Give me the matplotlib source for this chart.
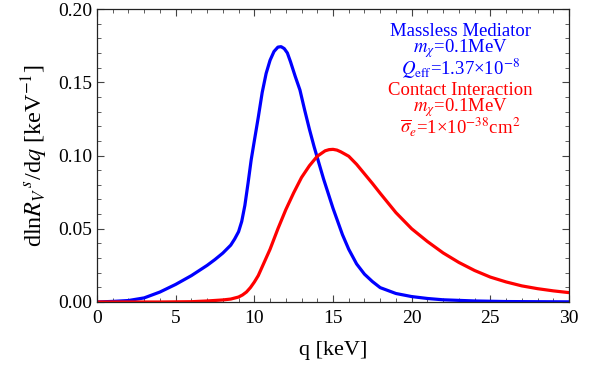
import matplotlib
matplotlib.use('Agg')
import matplotlib.pyplot as plt
from matplotlib.ticker import MultipleLocator

plt.rcParams['font.family'] = ['Liberation Serif', 'DejaVu Serif']
plt.rcParams['mathtext.fontset'] = 'stix'

# Massless mediator (blue)
q_massless = [0, 1, 2, 3, 4, 5, 6, 7, 7.5, 8, 8.5, 8.75, 9.0, 9.2, 9.4, 9.6,
              9.8, 10.0, 10.25, 10.5, 10.75, 11.0, 11.25, 11.5, 11.7, 11.9,
              12.1, 12.3, 12.6, 12.9, 13.2, 13.5, 13.8, 14.1, 14.4, 14.7, 15.0,
              15.3, 15.6, 16.0, 16.5, 17.0, 17.5, 18.0, 19.0, 20.0, 21, 22, 24,
              26, 28, 30]
rate_massless = [0, 0.0004, 0.001, 0.0028, 0.0068, 0.012, 0.018, 0.025, 0.029,
                 0.0334, 0.0388, 0.043, 0.048, 0.055, 0.066, 0.081, 0.097,
                 0.110, 0.126, 0.143, 0.156, 0.165, 0.171, 0.1740, 0.1743,
                 0.1730, 0.170, 0.164, 0.154, 0.1447, 0.131, 0.118, 0.106,
                 0.095, 0.084, 0.074, 0.064, 0.055, 0.046, 0.036, 0.026, 0.019,
                 0.014, 0.0098, 0.0058, 0.0037, 0.0024, 0.0015, 0.0007, 0.0003,
                 0.0002, 0.0001]

# Contact interaction (red)
q_contact = [0, 2, 4, 6, 7, 8, 8.5, 9, 9.25, 9.5, 9.75, 10, 10.25, 10.5, 11,
             11.5, 12, 12.5, 13, 13.5, 14, 14.5, 14.75, 15, 15.25, 15.5, 16,
             16.5, 17, 17.5, 18, 19, 20, 21, 22, 23, 24, 25, 26, 27, 28, 29, 30]
rate_contact = [0, 0, 0, 0.0002, 0.0007, 0.0014, 0.002, 0.0034, 0.0048, 0.0068,
                0.0098, 0.0136, 0.018, 0.024, 0.036, 0.050, 0.063, 0.0745,
                0.085, 0.093, 0.0995, 0.1032, 0.1040, 0.1042, 0.1037, 0.1025,
                0.0995, 0.094, 0.0875, 0.081, 0.0742, 0.061, 0.050, 0.0413,
                0.0335, 0.027, 0.0215, 0.017, 0.0137, 0.011, 0.0091, 0.0076,
                0.0064]

blue_lines = ['Massless Mediator', r'$m_\chi$=0.1MeV',
              r'$Q_{\rm eff}$=1.37×10$^{-8}$']
red_lines = ['Contact Interaction', r'$m_\chi$=0.1MeV',
             r'$\overline{\sigma}_e$=1×10$^{-38}$cm$^2$']


fig = plt.figure(figsize=(6.05, 3.71), dpi=100)
ax = fig.add_axes([0.1603, 0.186, 0.7802, 0.7897])

ax.plot(q_massless, rate_massless, color='#0000ff', lw=2.3,
        solid_joinstyle='round')
ax.plot(q_contact, rate_contact, color='#ff0000', lw=2.3,
        solid_joinstyle='round')

ax.set_xlim(0, 30)
ax.set_ylim(0, 0.20)
ax.xaxis.set_major_locator(MultipleLocator(5))
ax.xaxis.set_minor_locator(MultipleLocator(1))
ax.yaxis.set_major_locator(MultipleLocator(0.05))
ax.yaxis.set_minor_locator(MultipleLocator(0.01))
ax.yaxis.set_major_formatter(lambda v, p: f'{v:.2f}')
ax.tick_params(which='both', direction='in', top=True, right=True,
               labelsize=14, color='#444444')
ax.tick_params(axis='x', which='major', pad=6)
ax.tick_params(which='major', length=5, width=0.8)
ax.tick_params(which='minor', length=3, width=0.6)
for s in ax.spines.values():
    s.set_linewidth(0.9)
    s.set_color('#222222')

ax.set_xlabel('q [keV]', fontsize=16, labelpad=10)
ax.set_ylabel(r'dln$R_V{}^{\,s}$/d$q$ [keV$^{-1}$]', fontsize=17.5,
              labelpad=6)

# each legend block as one text, lines stacked tightly as in the reference
ax.text(0.770, 0.952, '\n'.join(blue_lines), color='#0000ff', fontsize=13.5,
        ha='center', va='top', multialignment='center', linespacing=0.8,
        transform=ax.transAxes)
ax.text(0.770, 0.750, '\n'.join(red_lines), color='#ff0000', fontsize=13.5,
        ha='center', va='top', multialignment='center', linespacing=0.8,
        transform=ax.transAxes)

fig.savefig('out.png', dpi=100)
